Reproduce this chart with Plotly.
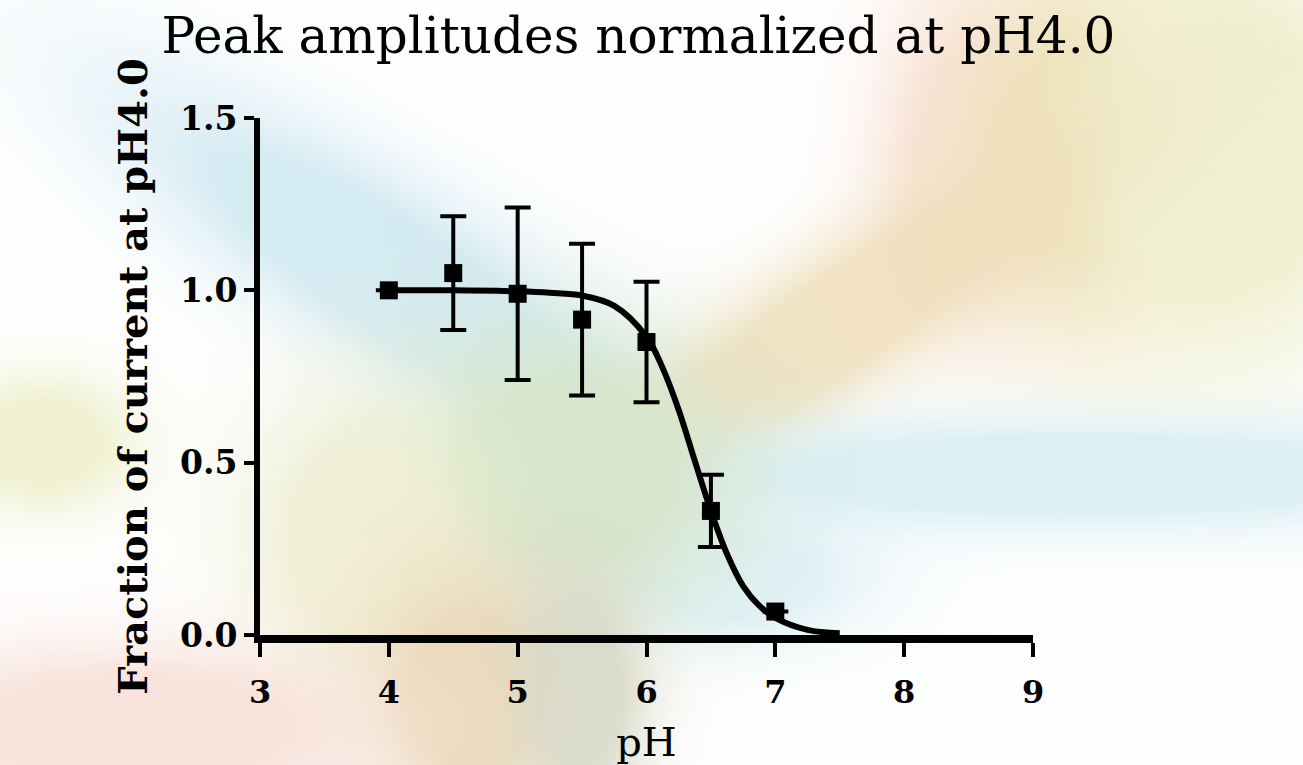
import base64, struct, zlib
import numpy as np
import plotly.graph_objects as go

# ---------------- data ----------------
ph = [4.0, 4.5, 5.0, 5.5, 6.0, 6.5, 7.0]
frac = [1.00, 1.05, 0.99, 0.915, 0.85, 0.36, 0.068]
sem = [0.0, 0.165, 0.25, 0.22, 0.175, 0.105, 0.0]

fit_ph = [4.0, 4.5, 5.0, 5.25, 5.5, 5.75, 6.0, 6.125, 6.25, 6.375, 6.5, 6.625, 6.75, 6.875, 7.0, 7.25, 7.5]
fit_frac = [1.0, 1.0, 0.997, 0.993, 0.985, 0.955, 0.865, 0.775, 0.653, 0.505, 0.36, 0.235, 0.142, 0.085, 0.05, 0.015, 0.005]

x_ticks = [3, 4, 5, 6, 7, 8, 9]
y_ticks = [0.0, 0.5, 1.0, 1.5]
y_tick_text = ["0.0", "0.5", "1.0", "1.5"]

# ---------------- background (soft pastel blobs) ----------------
W, H = 1303, 765
S = 8
gw, gh = W // S + 1, H // S + 1
yy, xx = np.mgrid[0:gh, 0:gw].astype(float) * S
img = np.ones((gh, gw, 3)) * 255.0
blobs = [
    # cx, cy, sx, sy, angle, rgb, strength
    (400, 280, 225, 60, 33, (212, 235, 243), 1.0),
    (965, 150, 60, 110, 0, (250, 228, 218), 1.0),
    (1075, 145, 70, 115, 0, (240, 221, 180), 1.0),
    (1215, 150, 110, 140, 0, (240, 241, 208), 1.0),
    (820, 330, 230, 48, -35, (240, 224, 188), 0.9),
    (1070, 472, 320, 38, 0, (220, 240, 246), 1.0),
    (720, 575, 90, 45, 0, (222, 240, 246), 0.9),
    (560, 470, 110, 90, 0, (214, 231, 204), 1.0),
    (40, 440, 60, 45, 0, (240, 242, 208), 1.0),
    (360, 540, 80, 100, 0, (240, 240, 212), 0.9),
    (470, 690, 70, 80, 0, (236, 218, 186), 1.0),
    (575, 690, 45, 80, 0, (216, 218, 200), 0.9),
    (130, 725, 170, 55, 0, (248, 228, 220), 1.0),
]
for cx, cy, sx, sy, ang, rgb, st in blobs:
    a = np.deg2rad(ang)
    dx, dy = xx - cx, yy - cy
    u = dx * np.cos(a) + dy * np.sin(a)
    v = -dx * np.sin(a) + dy * np.cos(a)
    w = np.clip(1.5 * np.exp(-0.5 * ((u / sx) ** 2 + (v / sy) ** 2)), 0, 1) * st
    for c in range(3):
        img[:, :, c] = img[:, :, c] * (1 - w) + rgb[c] * w
img = np.clip(img, 0, 255).astype(np.uint8)


def png_bytes(arr):
    h, w, _ = arr.shape
    raw = b"".join(b"\x00" + arr[r].tobytes() for r in range(h))

    def chunk(t, d):
        c = struct.pack(">I", len(d)) + t + d
        return c + struct.pack(">I", zlib.crc32(t + d) & 0xFFFFFFFF)

    return (b"\x89PNG\r\n\x1a\n" + chunk(b"IHDR", struct.pack(">IIBBBBB", w, h, 8, 2, 0, 0, 0))
            + chunk(b"IDAT", zlib.compress(raw, 9)) + chunk(b"IEND", b""))


bg_uri = "data:image/png;base64," + base64.b64encode(png_bytes(img)).decode()

# ---------------- figure ----------------
ML, MR, MT, MB = 260, 270, 118, 130
pw, ph_ = W - ML - MR, H - MT - MB

fig = go.Figure()
fig.add_trace(go.Scatter(
    x=fit_ph, y=fit_frac, mode="lines",
    line=dict(color="black", width=6, shape="spline"),
    hoverinfo="skip", showlegend=False))
fig.add_trace(go.Scatter(
    x=ph, y=frac, mode="markers",
    marker=dict(symbol="square", size=18, color="black"),
    error_y=dict(type="data", array=sem, visible=True, color="black", thickness=4, width=13),
    showlegend=False))

serif = "DejaVu Serif"
fig.update_layout(
    width=W, height=H,
    margin=dict(l=ML, r=MR, t=MT, b=MB, autoexpand=False),
    paper_bgcolor="white", plot_bgcolor="rgba(0,0,0,0)",
    title=dict(text="Peak amplitudes normalized at pH4.0", x=0.49, xanchor="center",
               y=0.953, yanchor="middle",
               font=dict(family=serif, size=50, color="black")),
    images=[dict(source=bg_uri, xref="paper", yref="paper",
                 x=-ML / pw, y=1 + MT / ph_, sizex=W / pw, sizey=H / ph_,
                 xanchor="left", yanchor="top", sizing="stretch", layer="below")],
)
fig.update_xaxes(
    range=[3, 9], tickvals=x_ticks, ticks="outside", ticklen=14, tickwidth=4, tickcolor="black",
    showline=True, linecolor="black", linewidth=8, showgrid=False, zeroline=False,
    ticklabelstandoff=8, automargin=False,
    tickfont=dict(family=serif, size=32, color="black", weight="bold"),
    title=dict(text="pH", font=dict(family=serif, size=40, color="black"), standoff=22))
fig.update_yaxes(
    range=[0, 1.5], tickvals=y_ticks, ticktext=y_tick_text, ticks="outside", ticklen=10, tickwidth=4,
    tickcolor="black", showline=True, linecolor="black", linewidth=6, showgrid=False, zeroline=False,
    automargin=False,
    tickfont=dict(family=serif, size=33, color="black", weight="bold"),
    title=dict(text="<b>Fraction of current at pH4.0</b>",
               font=dict(family=serif, size=40, color="black"), standoff=22))

fig.write_html("out.html")
